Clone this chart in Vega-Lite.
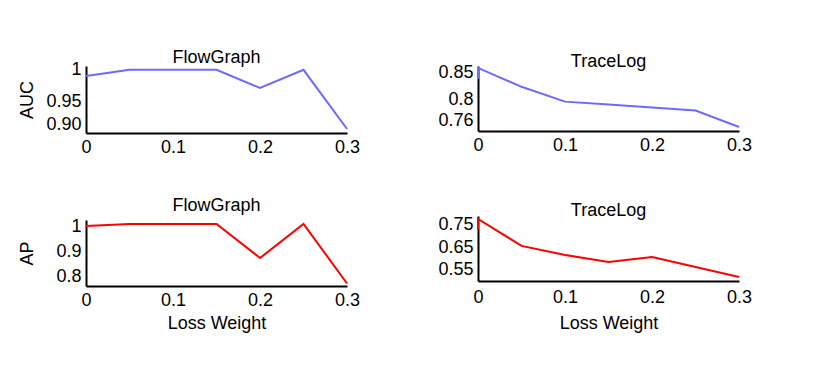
{
  "$schema": "https://vega.github.io/schema/vega-lite/v6.json",
  "padding": {"left": 18, "top": 49, "right": 5, "bottom": 5},
  "background": "white",
  "config": {
    "view": {"stroke": null},
    "font": "Liberation Sans",
    "axis": {
      "grid": false,
      "ticks": false,
      "domainColor": "black",
      "domainWidth": 2,
      "format": ".2~f",
      "labelFont": "Liberation Sans",
      "labelFontSize": 18,
      "labelColor": "black",
      "titleFont": "Liberation Sans",
      "titleFontSize": 18,
      "titleFontWeight": "normal",
      "titleColor": "black"
    },
    "axisX": {"labelPadding": 5, "labelFlush": false, "titlePadding": 5},
    "axisY": {"labelPadding": 5},
    "title": {"font": "Liberation Sans", "fontSize": 18, "fontWeight": "normal", "color": "black", "offset": -2}
  },
  "datasets": {
    "d": [
      {"panel": "AUC_FG", "ord": 1, "w": 0, "v": 0.9893},
      {"panel": "AUC_FG", "ord": 2, "w": 0.05, "v": 0.999},
      {"panel": "AUC_FG", "ord": 3, "w": 0.1, "v": 0.999},
      {"panel": "AUC_FG", "ord": 4, "w": 0.15, "v": 0.999},
      {"panel": "AUC_FG", "ord": 5, "w": 0.2, "v": 0.9705},
      {"panel": "AUC_FG", "ord": 6, "w": 0.25, "v": 0.999},
      {"panel": "AUC_FG", "ord": 7, "w": 0.3, "v": 0.9063},
      {"panel": "AUC_TL", "ord": 1, "w": 0, "v": 0.8385},
      {"panel": "AUC_TL", "ord": 2, "w": 0, "v": 0.8594},
      {"panel": "AUC_TL", "ord": 3, "w": 0.05, "v": 0.8235},
      {"panel": "AUC_TL", "ord": 4, "w": 0.1, "v": 0.7953},
      {"panel": "AUC_TL", "ord": 5, "w": 0.15, "v": 0.7897},
      {"panel": "AUC_TL", "ord": 6, "w": 0.2, "v": 0.784},
      {"panel": "AUC_TL", "ord": 7, "w": 0.25, "v": 0.7784},
      {"panel": "AUC_TL", "ord": 8, "w": 0.3, "v": 0.7469},
      {"panel": "AP_FG", "ord": 1, "w": 0, "v": 1.0},
      {"panel": "AP_FG", "ord": 2, "w": 0.05, "v": 1.008},
      {"panel": "AP_FG", "ord": 3, "w": 0.1, "v": 1.008},
      {"panel": "AP_FG", "ord": 4, "w": 0.15, "v": 1.008},
      {"panel": "AP_FG", "ord": 5, "w": 0.2, "v": 0.872},
      {"panel": "AP_FG", "ord": 6, "w": 0.25, "v": 1.008},
      {"panel": "AP_FG", "ord": 7, "w": 0.3, "v": 0.77},
      {"panel": "AP_TL", "ord": 1, "w": 0, "v": 0.728},
      {"panel": "AP_TL", "ord": 2, "w": 0, "v": 0.777},
      {"panel": "AP_TL", "ord": 3, "w": 0.05, "v": 0.657},
      {"panel": "AP_TL", "ord": 4, "w": 0.1, "v": 0.617},
      {"panel": "AP_TL", "ord": 5, "w": 0.15, "v": 0.586},
      {"panel": "AP_TL", "ord": 6, "w": 0.2, "v": 0.608},
      {"panel": "AP_TL", "ord": 7, "w": 0.25, "v": 0.563},
      {"panel": "AP_TL", "ord": 8, "w": 0.3, "v": 0.519}
    ]
  },
  "data": {"name": "d"},
  "spacing": 77,
  "hconcat": [
    {
      "spacing": 41,
      "vconcat": [
        {
          "width": 261, "height": 67,
          "title": {"text": "FlowGraph", "offset": -7},
          "transform": [{"filter": "datum.panel == 'AUC_FG'"}],
          "mark": {"type": "line", "color": "#6b6bff", "strokeWidth": 2},
          "encoding": {
            "x": {"field": "w", "type": "quantitative", "scale": {"domain": [0, 0.3], "nice": false}, "axis": {"values": [0, 0.1, 0.2, 0.3], "title": null}},
            "y": {"field": "v", "type": "quantitative", "scale": {"domain": [0.9, 1.005], "nice": false, "zero": false}, "axis": {"values": [0.9, 0.95, 1], "labelFlush": true, "labelExpr": "datum.value == 0.9 ? '0.90' : datum.label", "title": "AUC", "titleX": -50}},
            "order": {"field": "ord", "type": "quantitative"}
          }
        },
        {
          "width": 261, "height": 66,
          "title": {"text": "FlowGraph", "offset": 2},
          "transform": [{"filter": "datum.panel == 'AP_FG'"}],
          "mark": {"type": "line", "color": "#ff0000", "strokeWidth": 2},
          "encoding": {
            "x": {"field": "w", "type": "quantitative", "scale": {"domain": [0, 0.3], "nice": false}, "axis": {"values": [0, 0.1, 0.2, 0.3], "title": "Loss Weight"}},
            "y": {"field": "v", "type": "quantitative", "scale": {"domain": [0.76, 1.024], "nice": false, "zero": false}, "axis": {"values": [0.8, 0.9, 1], "title": "AP", "titleX": -50}},
            "order": {"field": "ord", "type": "quantitative"}
          }
        }
      ]
    },
    {
      "spacing": 47,
      "vconcat": [
        {
          "width": 261, "height": 65,
          "title": {"text": "TraceLog", "offset": -7},
          "transform": [{"filter": "datum.panel == 'AUC_TL'"}],
          "mark": {"type": "line", "color": "#6b6bff", "strokeWidth": 2},
          "encoding": {
            "x": {"field": "w", "type": "quantitative", "scale": {"domain": [0, 0.3], "nice": false}, "axis": {"values": [0, 0.1, 0.2, 0.3], "title": null}},
            "y": {"field": "v", "type": "quantitative", "scale": {"domain": [0.7394, 0.8631], "nice": false, "zero": false}, "axis": {"values": [0.76, 0.8, 0.85], "title": null}},
            "order": {"field": "ord", "type": "quantitative"}
          }
        },
        {
          "width": 261, "height": 65,
          "title": {"text": "TraceLog", "offset": -5},
          "transform": [{"filter": "datum.panel == 'AP_TL'"}],
          "mark": {"type": "line", "color": "#ff0000", "strokeWidth": 2},
          "encoding": {
            "x": {"field": "w", "type": "quantitative", "scale": {"domain": [0, 0.3], "nice": false}, "axis": {"values": [0, 0.1, 0.2, 0.3], "title": "Loss Weight", "labelPadding": 7, "titlePadding": 8}},
            "y": {"field": "v", "type": "quantitative", "scale": {"domain": [0.501, 0.79], "nice": false, "zero": false}, "axis": {"values": [0.55, 0.65, 0.75], "title": null}},
            "order": {"field": "ord", "type": "quantitative"}
          }
        }
      ]
    }
  ]
}
